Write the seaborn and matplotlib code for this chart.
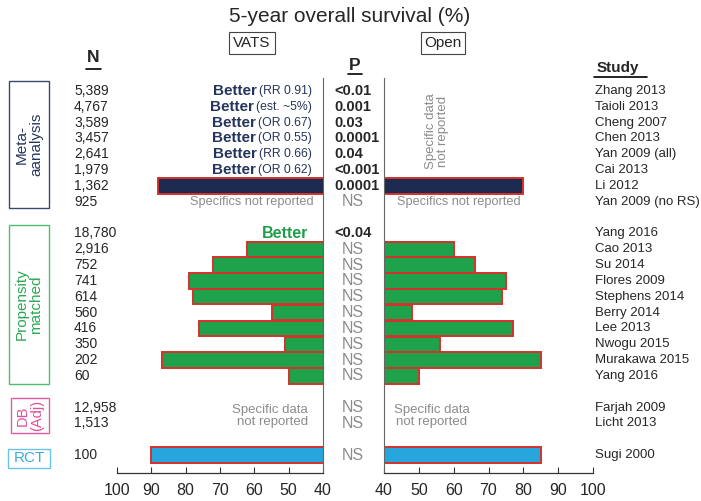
import numpy as np
import pandas as pd
import matplotlib
matplotlib.use("Agg")
import matplotlib.pyplot as plt
import seaborn as sns
from matplotlib.patches import Rectangle
from matplotlib.lines import Line2D
from matplotlib.transforms import blended_transform_factory

nan = np.nan

# values (5-year overall survival, %)
meta_study = ["Zhang 2013", "Taioli 2013", "Cheng 2007", "Chen 2013", "Yan 2009 (all)",
              "Cai 2013", "Li 2012", "Yan 2009 (no RS)"]
meta_n = ["5,389", "4,767", "3,589", "3,457", "2,641", "1,979", "1,362", "925"]
meta_p = ["<0.01", "0.001", "0.03", "0.0001", "0.04", "<0.001", "0.0001", "NS"]
meta_note = ["(RR 0.91)", "(est. ~5%)", "(OR 0.67)", "(OR 0.55)", "(RR 0.66)", "(OR 0.62)", "", ""]
meta_vats = [nan, nan, nan, nan, nan, nan, 88, nan]
meta_open = [nan, nan, nan, nan, nan, nan, 80, nan]

prop_study = ["Yang 2016", "Cao 2013", "Su 2014", "Flores 2009", "Stephens 2014", "Berry 2014",
              "Lee 2013", "Nwogu 2015", "Murakawa 2015", "Yang 2016"]
prop_n = ["18,780", "2,916", "752", "741", "614", "560", "416", "350", "202", "60"]
prop_p = ["<0.04", "NS", "NS", "NS", "NS", "NS", "NS", "NS", "NS", "NS"]
prop_vats = [nan, 62, 72, 79, 78, 55, 76, 51, 87, 50]
prop_open = [nan, 60, 66, 75, 74, 48, 77, 56, 85, 50]

db_study = ["Farjah 2009", "Licht 2013"]
db_n = ["12,958", "1,513"]
db_p = ["NS", "NS"]
db_vats = [nan, nan]
db_open = [nan, nan]

rct_study = ["Sugi 2000"]
rct_n = ["100"]
rct_p = ["NS"]
rct_vats = [90]
rct_open = [85]

groups = ["Meta-analysis", "Propensity matched", "DB (Adj)", "RCT"]
bar_colors = {"Meta-analysis": "#1c2a4f", "Propensity matched": "#1ea24b",
              "DB (Adj)": "#e0559c", "RCT": "#27a5dd"}

# one table, one empty row between groups
rows = []
pos = 0
for g, st, ns, ps, va, op in [
        (groups[0], meta_study, meta_n, meta_p, meta_vats, meta_open),
        (groups[1], prop_study, prop_n, prop_p, prop_vats, prop_open),
        (groups[2], db_study, db_n, db_p, db_vats, db_open),
        (groups[3], rct_study, rct_n, rct_p, rct_vats, rct_open)]:
    for i in range(len(st)):
        rows.append(dict(group=g, study=st[i], n=ns[i], p=ps[i], vats=va[i], open=op[i], row=pos))
        pos += 1
    pos += 1
df = pd.DataFrame(rows)

sns.set_style("white")
FONT = ["Liberation Sans", "DejaVu Sans"]
plt.rcParams["font.family"] = FONT

W, H = 701, 501
RED = "#d8302b"
GRAY = "#8c8c8c"
NAVY = "#26355e"
GREEN = "#1f9e49"

fig = plt.figure(figsize=(W / 100, H / 100), dpi=100)
axL = fig.add_axes([117 / W, (H - 473) / H, (323 - 117) / W, (473 - 78) / H])
axR = fig.add_axes([384 / W, (H - 473) / H, (593 - 384) / W, (473 - 78) / H])

sns.barplot(data=df.dropna(subset=["vats"]), x="vats", y="row", hue="group", palette=bar_colors,
            orient="y", native_scale=True, width=0.97, edgecolor=RED, linewidth=1.4,
            saturation=1, errorbar=None, legend=False, ax=axL)
sns.barplot(data=df.dropna(subset=["open"]), x="open", y="row", hue="group", palette=bar_colors,
            orient="y", native_scale=True, width=0.97, edgecolor=RED, linewidth=1.4,
            saturation=1, errorbar=None, legend=False, ax=axR)

ylim = (24.13, -0.82)
axL.set_xlim(100, 40)
axR.set_xlim(40, 100)
for ax in (axL, axR):
    ax.set_ylim(*ylim)
    ax.set_xticks([100, 90, 80, 70, 60, 50, 40])
    ax.set_yticks([])
    ax.set_xlabel("")
    ax.set_ylabel("")
    ax.tick_params(axis="x", bottom=True, direction="in", length=4, width=0.8,
                   labelsize=11.5, pad=7, color="#333333")
    ax.spines["top"].set_visible(False)
    ax.spines["bottom"].set_color("#333333")
    ax.spines["bottom"].set_linewidth(0.9)
axL.spines["left"].set_visible(False)
axL.spines["right"].set_color("#666666")
axR.spines["right"].set_visible(False)
axR.spines["left"].set_color("#666666")

trans = blended_transform_factory(fig.transFigure, axL.transData)


def T(x, row, s, **kw):
    return fig.text(x / W, row, s, transform=trans, **kw)


def F(x, y, s, **kw):
    return fig.text(x / W, 1 - y / H, s, **kw)


# title and headers
F(350, 16, "5-year overall survival (%)", ha="center", va="center", fontsize=15)
for x, lab in [(252, "VATS"), (443, "Open")]:
    F(x, 43, lab, ha="center", va="center", fontsize=11,
      bbox=dict(boxstyle="square,pad=0.25", fc="white", ec="#444444", lw=0.8))
F(93, 58, "N", ha="center", va="center", fontsize=12.5, fontweight="bold")
F(355, 65, "P", ha="center", va="center", fontsize=12.5, fontweight="bold")
F(597, 68, "Study", ha="left", va="center", fontsize=11, fontweight="bold")
for x0, x1, y in [(86, 101, 69), (348, 362, 74), (594, 647, 77)]:
    fig.add_artist(Line2D([x0 / W, x1 / W], [1 - y / H, 1 - y / H], color="black", lw=1.2))

# per-row labels
for _, r in df.iterrows():
    T(74, r["row"], r["n"], ha="left", va="center", fontsize=10)
    T(595, r["row"], r["study"], ha="left", va="center", fontsize=9.5)
    if r["p"] == "NS":
        T(353, r["row"], "NS", ha="center", va="center", fontsize=11.5, color=GRAY)
    else:
        T(334, r["row"], r["p"], ha="left", va="center", fontsize=10.5, fontweight="bold")

# "Better" annotations
fig.canvas.draw()
renderer = fig.canvas.get_renderer()
for i, note in enumerate(meta_note):
    if note:
        t = T(312, i, note, ha="right", va="center", fontsize=8.8, color=NAVY)
        bb = t.get_window_extent(renderer)
        T(bb.x0 - 2, i, "Better", ha="right", va="center", fontsize=11,
          fontweight="bold", color=NAVY)
T(308, 9, "Better", ha="right", va="center", fontsize=11.5, fontweight="bold", color=GREEN)

# not reported notes
T(314, 7, "Specifics not reported", ha="right", va="center", fontsize=9.2, color=GRAY)
T(397, 7, "Specifics not reported", ha="left", va="center", fontsize=9.2, color=GRAY)
F(437, 131, "Specific data\nnot reported", ha="center", va="center", rotation=90,
  fontsize=9.5, color=GRAY, linespacing=1.0)
T(308, 20.5, "Specific data\nnot reported", ha="right", va="center", fontsize=9.5,
  color=GRAY, linespacing=1.0, multialignment="right")
T(394, 20.5, "Specific data\nnot reported", ha="left", va="center", fontsize=9.5,
  color=GRAY, linespacing=1.0, multialignment="center")

# group boxes on the left
boxes = [("Meta-\naanalysis", 9, 81, 49, 208, "#3a4870", NAVY, 90, 11),
         ("Propensity\nmatched", 9, 225, 49, 384, "#4cbf73", "#2aa852", 90, 11),
         ("DB\n(Adj)", 11, 398, 49, 433, "#e45aa0", "#e04f99", 90, 10.5),
         ("RCT", 8, 449, 50, 468, "#6cc3e8", "#3aa9dc", 0, 11)]
for lab, x0, y0, x1, y1, ec, tc, rot, fs in boxes:
    fig.add_artist(Rectangle((x0 / W, 1 - y1 / H), (x1 - x0) / W, (y1 - y0) / H,
                             transform=fig.transFigure, fill=False, ec=ec, lw=1.0))
    F((x0 + x1) / 2, (y0 + y1) / 2, lab, ha="center", va="center", rotation=rot,
      fontsize=fs, color=tc, linespacing=1.0)

fig.savefig("out.png", dpi=100)
